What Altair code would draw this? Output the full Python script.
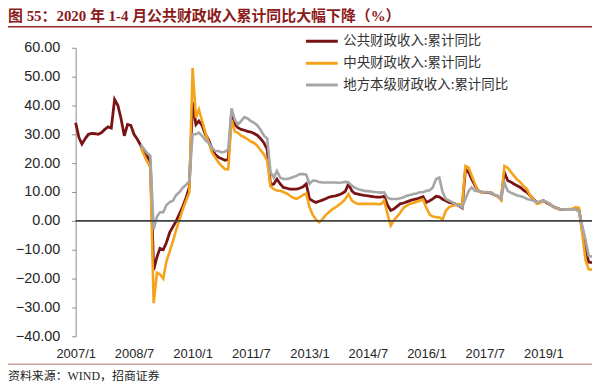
import altair as alt
import pandas as pd

# ---------------- data (monthly, 2007/1 .. 2020/4) ----------------
months = pd.date_range("2007-01-01", "2020-04-01", freq="MS")

series_names = ["公共财政收入:累计同比", "中央财政收入:累计同比", "地方本级财政收入:累计同比"]
series_colors = ["#7A1315", "#F5A31A", "#A6A6A6"]

public = [
    34.0, 28.9, 26.6, 28.5, 30.0, 30.3, 30.2, 30.0, 30.6, 31.7, 32.6, 32.2,
    42.1, 40.0, 35.5, 29.5, 33.4, 33.1, 30.0, 28.3, 26.2, 24.2, 22.5, 20.5,
    -17.0, -12.5, -9.5, -10.0, -7.5, -4.0, -2.0, 0.0, 2.5, 5.0, 8.0, 11.7,
    41.0, 33.4, 34.6, 33.0, 30.0, 28.0, 25.0, 23.0, 22.0, 21.5, 21.0, 21.3,
    37.0, 33.5, 32.3, 31.7, 31.4, 31.0, 30.8, 30.3, 29.6, 28.5, 27.0, 24.8,
    12.5, 12.8, 14.5, 12.8, 11.6, 11.3, 11.0, 11.0, 11.0, 11.3, 11.8, 12.8,
    7.6, 6.9, 6.4, 6.8, 7.2, 7.7, 8.2, 8.5, 8.7, 9.0, 9.5, 10.2,
    12.8, 10.4, 9.5, 9.3, 9.0, 8.8, 8.7, 8.5, 8.3, 8.2, 8.2, 8.6,
    5.5, 3.6, 4.1, 5.0, 5.9, 6.2, 6.6, 7.0, 7.4, 7.6, 8.0, 8.4,
    6.4, 7.0, 7.6, 8.5, 8.3, 7.5, 7.0, 6.4, 6.1, 5.8, 5.2, 4.5,
    17.9, 16.8, 14.5, 12.2, 10.4, 10.0, 9.9, 9.8, 9.6, 9.0, 8.5, 7.4,
    16.8, 14.0, 13.5, 12.8, 12.2, 11.6, 10.6, 9.9, 8.7, 7.5, 6.4, 6.5,
    7.0, 6.3, 5.8, 5.0, 4.5, 4.1, 4.0, 4.0, 4.0, 4.1, 4.5, 3.8,
    None, -9.9, -14.3, -14.5,
]

central = [None] * 20 + [
    25.5, 23.0, 20.5, 18.5,
    -28.5, -18.0, -18.5, -20.0, -14.0, -10.5, -7.0, -3.0, 0.5, 4.0, 7.0, 9.8,
    53.0, 35.7, 38.6, 34.6, 30.6, 27.1, 23.7, 22.0, 20.2, 19.0, 17.9, 17.9,
    35.0, 31.0, 30.5, 29.5, 29.0, 28.3, 27.5, 27.0, 26.0, 24.5, 23.0, 20.8,
    12.0, 11.0, 10.5, 10.4, 10.0, 9.5, 8.7, 8.0, 7.6, 8.2, 9.0, 9.5,
    4.7, 2.0, 0.5, -0.5, 0.5, 2.0, 3.0, 4.0, 4.7, 5.5, 6.4, 7.5,
    9.3, 7.0, 6.3, 5.9, 5.9, 5.9, 5.9, 5.9, 5.9, 5.8, 5.8, 7.0,
    2.4, -1.6, 0.1, 1.5, 2.8, 4.5, 5.3, 5.9, 6.2, 6.6, 7.0, 7.4,
    4.5, 2.2, 1.5, 1.3, 1.2, 0.5, 3.5, 4.8, 5.2, 5.5, 5.8, 5.5,
    19.0, 18.4, 15.6, 12.8, 10.4, 9.9, 10.0, 10.0, 9.8, 9.0, 8.5, 7.2,
    19.0, 18.4, 17.0, 15.6, 14.3, 13.3, 12.0, 11.0, 8.7, 7.5, 5.9, 6.2,
    7.0, 6.5, 5.9, 5.0, 4.3, 4.1, 4.0, 4.0, 4.1, 4.2, 4.7, 4.5,
    None, -13.6, -16.8, -16.9,
]

local = [None] * 20 + [
    26.5, 25.0, 23.5, 22.5,
    -3.0, 1.5, 3.0, 3.0, 5.5, 6.5, 7.0, 9.0, 10.0, 11.5, 12.5, 13.8,
    30.0, 30.0, 30.6, 29.4, 28.0, 27.0, 25.4, 24.2, 24.2, 23.7, 24.0, 24.8,
    39.0, 35.0, 33.4, 34.6, 36.0, 35.5, 34.6, 34.0, 33.0, 31.5, 29.5, 28.5,
    17.0, 15.0, 17.3, 15.0, 14.5, 14.5, 14.8, 15.2, 15.6, 16.2, 16.2, 16.0,
    12.8, 14.0, 13.9, 13.5, 13.3, 13.3, 13.3, 13.3, 13.3, 13.2, 13.3, 13.5,
    13.3, 12.2, 11.5, 11.0, 10.7, 10.4, 10.3, 10.2, 10.0, 9.9, 9.8, 9.9,
    8.0, 7.6, 7.6, 7.6, 7.8, 8.2, 8.7, 9.0, 9.3, 9.5, 9.9, 9.9,
    10.4, 10.6, 11.6, 14.5, 15.0, 10.0, 7.6, 7.0, 6.4, 5.8, 5.3, 4.7,
    7.6, 10.4, 11.6, 10.4, 10.4, 10.1, 9.9, 9.9, 9.8, 9.0, 8.7, 7.7,
    13.3, 10.4, 9.8, 9.3, 8.8, 8.5, 8.2, 7.6, 7.3, 7.0, 6.4, 6.8,
    7.0, 6.6, 6.0, 5.0, 4.5, 4.1, 4.0, 3.9, 3.9, 4.0, 3.9, 3.2,
    None, -6.6, -12.1, -12.4,
]

x_tick_years_months = [(2007, 1), (2008, 7), (2010, 1), (2011, 7), (2013, 1),
                       (2014, 7), (2016, 1), (2017, 7), (2019, 1)]
y_ticks = [-40, -30, -20, -10, 0, 10, 20, 30, 40, 50, 60]

title_text = "图 55：2020 年 1-4 月公共财政收入累计同比大幅下降（%）"
source_text = "资料来源：WIND，招商证券"

# ---------------- build table ----------------
rows = []
for name, vals in zip(series_names, [public, central, local]):
    for d, v in zip(months, vals):
        if v is not None:
            rows.append({"date": d.strftime("%Y-%m-%d"), "series": name, "value": v})
df = pd.DataFrame(rows)

W, H = 519, 290

x_enc = alt.X(
    "date:T",
    title=None,
    scale=alt.Scale(domain=[alt.DateTime(year=2007, month=1, date=1),
                            alt.DateTime(year=2020, month=4, date=1)]),
    axis=alt.Axis(
        values=[alt.DateTime(year=y, month=m, date=1) for y, m in x_tick_years_months],
        format="%Y/%-m", domain=False, ticks=False, tickSize=0, grid=False,
        labelFlush=False, labelOverlap=False, labelPadding=11,
        labelFont="Liberation Sans", labelFontSize=13, labelColor="#262626",
    ),
)
y_enc = alt.Y(
    "value:Q",
    title=None,
    scale=alt.Scale(domain=[-40, 60], nice=False, zero=False),
    axis=alt.Axis(
        values=y_ticks, format=".2f", grid=False, tickSize=4, labelOverlap=False,
        domainColor="#8C8C8C", tickColor="#8C8C8C", labelPadding=12,
        labelFont="Liberation Sans", labelFontSize=14.5, labelColor="#262626",
    ),
)
color_enc = alt.Color(
    "series:N",
    scale=alt.Scale(domain=series_names, range=series_colors),
    legend=alt.Legend(
        orient="none", legendX=236, legendY=-18, title=None, padding=0,
        symbolType="M-1.6,0H1.6", symbolSize=400, symbolStrokeWidth=3,
        labelFont="Noto Sans CJK SC", labelFontSize=13.5, labelColor="#333333",
        labelOffset=10, rowPadding=4, labelLimit=400,
    ),
)

line_layers = []
for name, sw in zip(series_names, [2.8, 2.6, 2.6]):
    line_layers.append(
        alt.Chart(df)
        .transform_filter(alt.datum.series == name)
        .mark_line(strokeWidth=sw)
        .encode(x=x_enc, y=y_enc, color=color_enc)
    )

zero_rule = (
    alt.Chart(pd.DataFrame({"value": [0]}))
    .mark_rule(color="#404040", strokeWidth=1.6)
    .encode(y=y_enc)
)

one = pd.DataFrame({"t": [title_text], "s": [source_text]})
title_mark = (
    alt.Chart(one)
    .mark_text(align="left", baseline="alphabetic", fontSize=15, fontWeight="bold",
               font="Liberation Serif, Noto Sans CJK SC", color="#8B1A1A")
    .encode(x=alt.value(-68), y=alt.value(-27), text="t:N")
)
title_line = (
    alt.Chart(one)
    .mark_rule(color="#9A2A2A", strokeWidth=1.5)
    .encode(x=alt.value(-68), x2=alt.value(524), y=alt.value(-21))
)
bottom_line = (
    alt.Chart(one)
    .mark_rule(color="#B8706A", strokeWidth=1)
    .encode(x=alt.value(-68), x2=alt.value(524), y=alt.value(318))
)
source_mark = (
    alt.Chart(one)
    .mark_text(align="left", baseline="alphabetic", fontSize=12,
               font="Liberation Serif, Noto Sans CJK SC", color="#222222")
    .encode(x=alt.value(-68), y=alt.value(334), text="s:N")
)

chart = (
    alt.layer(*line_layers, zero_rule, title_mark, title_line, bottom_line, source_mark)
    .properties(
        width=W, height=H,
        autosize=alt.AutoSizeParams(type="none"),
        padding={"left": 68, "top": 39, "right": 0, "bottom": 47},
        background="white",
    )
    .configure_view(stroke=None)
)

chart.save("out.html", embed_options={"renderer": "svg", "actions": False})
